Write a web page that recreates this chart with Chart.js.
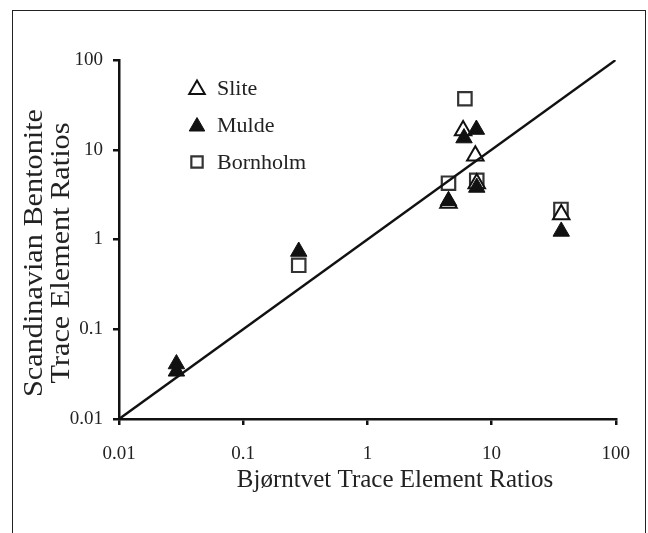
<!DOCTYPE html>
<html>
<head>
<meta charset="utf-8">
<script src="https://cdn.jsdelivr.net/npm/chart.js@4.4.1/dist/chart.umd.min.js"></script>
<style>
  html, body { margin: 0; padding: 0; background: #fff; }
  #wrap { position: relative; width: 648px; height: 533px; overflow: hidden; }
  #frame { position: absolute; left: 12px; top: 10px; width: 634px; height: 540px;
           border: 1.5px solid #222; box-sizing: border-box; }
  canvas { position: absolute; left: 0; top: 0; }
</style>
</head>
<body>
<div id="wrap">
  <div id="frame"></div>
  <canvas id="c" width="648" height="533"></canvas>
</div>
<script>
// ---- data ----
const tickValues = [0.01, 0.1, 1, 10, 100];
const tickLabels = ['0.01', '0.1', '1', '10', '100'];

const seriesNames = ['Slite', 'Mulde', 'Bornholm'];

const sliteX = [5.9, 7.4, 4.5, 7.6, 36.4];
const sliteY = [16.4, 8.6, 2.55, 4.2, 1.9];

const muldeX = [7.55, 6.0, 4.5, 7.6, 36.4, 0.029, 0.029, 0.28];
const muldeY = [16.8, 13.5, 2.7, 3.8, 1.23, 0.041, 0.034, 0.735];

const bornholmX = [6.1, 4.5, 7.6, 36.2, 0.28];
const bornholmY = [37, 4.24, 4.57, 2.16, 0.516];

const lineX = [0.01, 100];
const lineY = [0.01, 100];

const xTitle = 'Bjørntvet Trace Element Ratios';
const yTitle = ['Scandinavian Bentonite', 'Trace Element Ratios'];

const pts = (xs, ys) => xs.map((x, i) => ({ x: x, y: ys[i] }));
const SERIF = "'Liberation Serif', 'Times New Roman', serif";

function drawMarker(ctx, style, x, y, r, fill, stroke, lw) {
  ctx.save();
  ctx.beginPath();
  if (style === 'triangle') {
    ctx.moveTo(x, y - r);
    ctx.lineTo(x + r * Math.sin(Math.PI / 3), y + r * 0.5);
    ctx.lineTo(x - r * Math.sin(Math.PI / 3), y + r * 0.5);
    ctx.closePath();
  } else {
    const s = r * Math.SQRT1_2;
    ctx.rect(x - s, y - s, 2 * s, 2 * s);
  }
  ctx.fillStyle = fill; ctx.fill();
  ctx.lineWidth = lw; ctx.strokeStyle = stroke; ctx.stroke();
  ctx.restore();
}

const decor = {
  id: 'decor',
  afterDraw(chart) {
    const ctx = chart.ctx;
    ctx.save();
    ctx.fillStyle = '#222';
    // x axis title
    ctx.font = '25px ' + SERIF;
    ctx.textAlign = 'center';
    ctx.textBaseline = 'middle';
    ctx.fillText(xTitle, 395, 480);
    // y axis title (two lines, rotated)
    ctx.font = '28px ' + SERIF;
    [[35, yTitle[0]], [62, yTitle[1]]].forEach(([tx, t]) => {
      ctx.save();
      ctx.translate(tx, 253);
      ctx.rotate(-Math.PI / 2);
      ctx.scale(1.08, 1);
      ctx.fillText(t, 0, 0);
      ctx.restore();
    });
    // legend
    const rows = [88, 125, 162];
    const ds = [chart.data.datasets[1], chart.data.datasets[2], chart.data.datasets[3]];
    ctx.font = '22px ' + SERIF;
    ctx.textAlign = 'left';
    ds.forEach((d, i) => {
      const rr = d.pointStyle === 'rect' ? 8 : 9;
      drawMarker(ctx, d.pointStyle, 197, rows[i] + (d.pointStyle === 'triangle' ? 1.5 : 0), rr,
                 d.pointBackgroundColor, d.pointBorderColor, d.pointBorderWidth);
      ctx.fillStyle = '#222';
      ctx.fillText(d.label, 217, rows[i] + 1);
    });
    ctx.restore();
  }
};

const logAxis = (pos) => ({
  type: 'logarithmic',
  position: pos,
  min: 0.01,
  max: 100,
  afterBuildTicks: (scale) => { scale.ticks = tickValues.map(v => ({ value: v })); },
  afterFit: (scale) => {
    if (pos === 'left') scale.width = 119; else scale.height = 114;
  },
  ticks: {
    autoSkip: false,
    maxRotation: 0,
    color: '#222',
    padding: pos === 'left' ? 10 : 18,
    font: { family: SERIF, size: 19 },
    callback: (v) => { const i = tickValues.indexOf(v); return i >= 0 ? tickLabels[i] : ''; }
  },
  grid: {
    display: true,
    drawOnChartArea: false,
    drawTicks: true,
    tickLength: 6,
    color: '#111',
    lineWidth: 2.5
  },
  border: { display: true, color: '#111', width: 2.5 },
  title: { display: false }
});

new Chart(document.getElementById('c'), {
  type: 'scatter',
  data: {
    datasets: [
      {
        label: '1:1',
        data: pts(lineX, lineY),
        showLine: true,
        borderColor: '#111',
        borderWidth: 2.5,
        pointRadius: 0,
        order: 0
      },
      {
        label: seriesNames[0],
        data: pts(sliteX, sliteY),
        pointStyle: 'triangle',
        pointRadius: 9.5,
        pointHoverRadius: 9.5,
        pointBackgroundColor: '#ffffff',
        pointBorderColor: '#111',
        pointBorderWidth: 2,
        order: 2
      },
      {
        label: seriesNames[1],
        data: pts(muldeX, muldeY),
        pointStyle: 'triangle',
        pointRadius: 9.5,
        pointHoverRadius: 9.5,
        pointBackgroundColor: '#111',
        pointBorderColor: '#111',
        pointBorderWidth: 1,
        order: 1
      },
      {
        label: seriesNames[2],
        data: pts(bornholmX, bornholmY),
        pointStyle: 'rect',
        pointRadius: 9.5,
        pointHoverRadius: 9.5,
        pointBackgroundColor: '#ffffff',
        pointBorderColor: '#333',
        pointBorderWidth: 2.2,
        order: 3
      }
    ]
  },
  options: {
    responsive: false,
    animation: false,
    devicePixelRatio: 1,
    layout: { padding: { top: 60, right: 31, left: 0, bottom: 0 } },
    plugins: { legend: { display: false }, tooltip: { enabled: false } },
    scales: { x: logAxis('bottom'), y: logAxis('left') }
  },
  plugins: [decor]
});
</script>
</body>
</html>
